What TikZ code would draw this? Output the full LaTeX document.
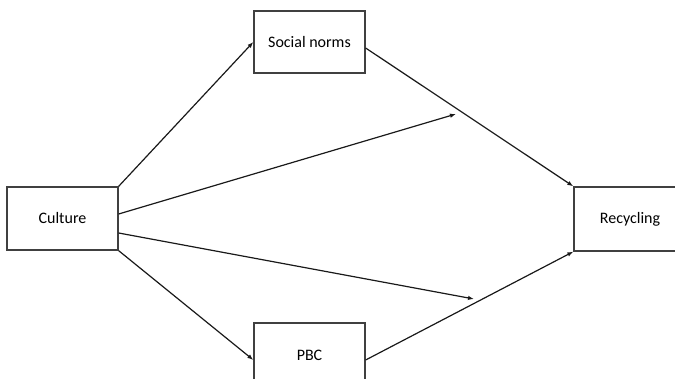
\documentclass[tikz,border=0pt]{standalone}
\usepackage{fontspec}
\setmainfont{Carlito}
\usetikzlibrary{arrows.meta}
\begin{document}
\begin{tikzpicture}[x=1pt,y=-1pt,
  box/.style={draw=black!75,line width=1.3pt,rectangle,inner sep=0pt,font=\fontsize{16}{19}\selectfont},
  conn/.style={draw=black!90,line width=1.2pt,-{Latex[length=6pt,width=4.5pt]}}]
\useasboundingbox (0,0) rectangle (675,379);
\clip (0,0) rectangle (675,379);
\node[box,minimum width=111pt,minimum height=63pt] (culture) at (62.5,218.5) {Culture};
\node[box,minimum width=111pt,minimum height=62pt] (social) at (309.5,42) {Social norms};
\node[box,minimum width=112pt,minimum height=64pt] (recyc) at (630,219) {Recycling};
\node[box,minimum width=111pt,minimum height=64pt] (pbc) at (309.5,355) {PBC};
\coordinate (m1) at (456,114);
\coordinate (m2) at (474,299);
\draw[conn] (culture.north east) -- (social.west);
\draw[conn] ([yshift=4.5pt]culture.east) -- (m1);
\draw[conn] ([yshift=-14.5pt]culture.east) -- (m2);
\draw[conn] (culture.south east) -- ([yshift=-5pt]pbc.west);
\draw[conn] ([yshift=-6pt]social.east) -- (recyc.north west);
\draw[conn] ([yshift=-5pt]pbc.east) -- (recyc.south west);
\end{tikzpicture}
\end{document}
